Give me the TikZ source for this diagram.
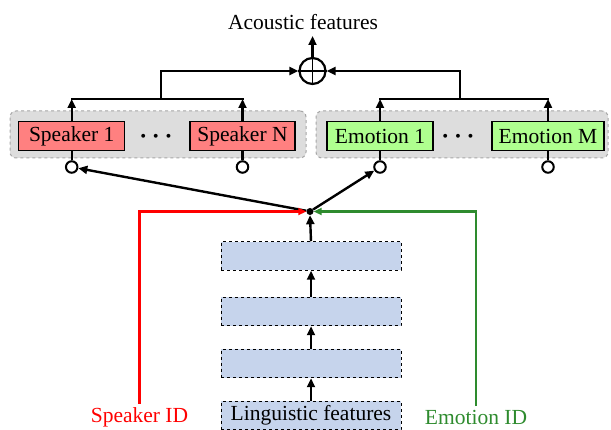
\documentclass[tikz,border=0pt]{standalone}
\usepackage{fontspec}
\setmainfont{Liberation Serif}
\usetikzlibrary{arrows.meta}
\definecolor{spk}{HTML}{FF8080}
\definecolor{emo}{HTML}{AFFF8F}
\definecolor{lay}{HTML}{C6D4EC}
\definecolor{grp}{HTML}{DDDDDD}
\definecolor{grn}{HTML}{2E8B2E}
\definecolor{rd}{HTML}{FF0000}
\begin{document}
\begin{tikzpicture}[x=1pt,y=-1pt,
  font=\fontsize{21.5}{24}\selectfont,
  box/.style={draw=black, line width=1.1, minimum height=29, inner sep=0},
  spkbox/.style={box, fill=spk},
  emobox/.style={box, fill=emo},
  laybox/.style={draw=black, dashed, line width=1, fill=lay, minimum width=180, minimum height=28.5, inner sep=0},
  grpbox/.style={draw=gray!70, dashed, fill=grp, rounded corners=6, line width=1, minimum height=47, inner sep=0},
  conn/.style={line width=2.4, -{Triangle[length=9,width=8]}},
  plain/.style={line width=2.4},
  port/.style={circle, draw=black, line width=2, fill=white, minimum size=11.5, inner sep=0},
  idline/.style={line width=2.3, -{Triangle[length=8,width=7]}},
  dotsnode/.style={font=\fontsize{30}{30}\selectfont\boldmath, inner sep=0},
]
\useasboundingbox (0,0) rectangle (611,430);
% groups
\node[grpbox, minimum width=296] (g1) at (158,134.5) {};
\node[grpbox, minimum width=292] (g2) at (462,134.5) {};
% boxes
\node[spkbox, minimum width=106] (s1) at (71.7,136) {Speaker 1};
\node[spkbox, minimum width=105] (sN) at (242.5,136) {Speaker N};
\node[emobox, minimum width=106] (e1) at (380,136) {Emotion 1};
\node[emobox, minimum width=112] (eM) at (548,136) {Emotion M};
\node[dotsnode] (d1) at (156,137) {$\cdots$};
\node[dotsnode] (d2) at (458,137) {$\cdots$};
% ports
\node[port] (p1) at (71.7,167) {};
\node[port] (pN) at (242.5,167) {};
\node[port] (q1) at (380,167) {};
\node[port] (qM) at (548,167) {};
\draw[plain] (s1.south) -- (p1.north);
\draw[plain] (sN.south) -- (pN.north);
\draw[plain] (e1.south) -- (q1.north);
\draw[plain] (eM.south) -- (qM.north);
% top bars
\coordinate (b1) at (71.7,99);
\coordinate (bN) at (242.5,99);
\coordinate (c1) at (380,99);
\coordinate (cM) at (548,99);
\coordinate (ml) at (161,99);
\coordinate (mr) at (460,99);
\draw[conn] (s1.north) -- (b1);
\draw[conn] (sN.north) -- (bN);
\draw[conn] (e1.north) -- (c1);
\draw[conn] (eM.north) -- (cM);
\draw[plain, line cap=rect] (b1) -- (bN);
\draw[plain, line cap=rect] (c1) -- (cM);
% sum
\node[circle, draw=black, line width=2.2, minimum size=26, inner sep=0] (sum) at (312.5,71) {};
\draw[line width=1.8] (sum.north) -- (sum.south) (sum.west) -- (sum.east);
\draw[conn] (ml) |- (sum.west);
\draw[conn] (mr) |- (sum.east);
\node (af) at (303,22) {Acoustic features};
\coordinate (out) at (312.5,36);
\draw[conn] (sum.north) -- (out);
% merge
\node[circle, fill=black, minimum size=7, inner sep=0] (m) at (310,211.5) {};
\draw[conn] (m) -- (p1);
\draw[conn] (m) -- (q1);
% layers
\node[laybox] (l1) at (311,256) {};
\node[laybox] (l2) at (311,311.5) {};
\node[laybox] (l3) at (311,363.5) {};
\node[laybox] (ling) at (311,415.7) {Linguistic features};
\draw[conn] (ling.north) -- (l3.south);
\draw[conn] (l3.north) -- (l2.south);
\draw[conn] (l2.north) -- (l1.south);
\draw[conn] (l1.north) -- (m.south);
% ids
\node[text=rd] (sid) at (139.5,417) {Speaker ID};
\node[text=grn] (eid) at (476,417) {Emotion ID};
\draw[idline, draw=rd] (sid.north) |- (m.west);
\draw[idline, draw=grn] (eid.north) |- (m.east);
\end{tikzpicture}
\end{document}
